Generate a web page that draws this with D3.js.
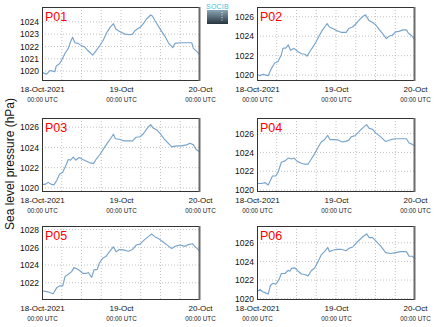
<!DOCTYPE html>
<html><head><meta charset="utf-8">
<script src="https://cdn.jsdelivr.net/npm/d3@7"></script>
<style>html,body{margin:0;padding:0;background:#fff;}svg{display:block;font-family:"Liberation Sans",Arial,Helvetica,sans-serif;}</style>
</head><body><svg id="c" width="435" height="327"></svg>
<script>
// hours since 18-Oct-2021 00:00 UTC, value hPa
const stations = ["P01","P02","P03","P04","P05","P06"];
const xTickLabels = ["18-Oct-2021","19-Oct","20-Oct"];
const xTickSub = "00:00 UTC";
const yLabel = "Sea level pressure (hPa)";
const yDomains = [[1019.2,1025.2],[1019.4,1027.0],[1019.6,1026.9],[1019.8,1027.65],[1020.05,1028.4],[1019.86,1027.8]];
const yTicks = [[1020,1021,1022,1023,1024],[1020,1022,1024,1026],[1020,1022,1024,1026],[1020,1022,1024,1026],[1022,1024,1026,1028],[1020,1022,1024,1026]];
const p01 = [[0,1019.9],[1.4,1019.75],[2.4,1020.05],[3.3,1020.0],[3.9,1019.95],[4.3,1020.4],[5.3,1020.6],[6,1020.9],[7,1021.45],[8,1021.85],[8.7,1022.4],[9.3,1022.75],[10,1022.3],[11,1022.25],[12,1022.05],[13,1021.95],[14,1021.65],[15.4,1021.3],[16.4,1021.65],[17.4,1022.0],[18.6,1022.5],[19.6,1023.1],[20.7,1023.55],[21.7,1023.85],[22.5,1023.4],[23.7,1023.2],[25.2,1023.0],[26.7,1022.95],[27.5,1023.0],[28.3,1023.3],[29.8,1023.55],[30.8,1023.85],[31.8,1024.25],[33,1024.55],[33.6,1024.45],[34.3,1024.1],[35.8,1023.45],[37.4,1022.8],[38.4,1022.3],[39.7,1021.9],[40.4,1022.25],[41.9,1022.3],[43.4,1022.3],[45.5,1022.3],[46,1021.85],[47,1021.6],[48,1021.3]];
const p02 = [[0,1020.1],[0.9,1019.95],[1.9,1020.1],[2.7,1020.0],[3.4,1019.95],[4.4,1020.7],[5.4,1021.25],[6.4,1021.4],[7.4,1022.1],[7.9,1022.75],[8.8,1022.8],[9.5,1023.1],[10.2,1022.55],[11.2,1022.75],[12.5,1022.4],[13.5,1022.2],[14.5,1022.15],[15.2,1021.95],[16,1022.4],[17,1022.9],[18,1023.45],[19,1024.1],[19.8,1024.6],[20.8,1025.05],[21.3,1025.3],[22,1024.95],[23,1024.8],[24,1024.6],[25.5,1024.4],[27.1,1024.4],[27.9,1024.8],[29,1024.95],[30,1025.25],[31,1025.65],[32.2,1026.05],[33,1026.2],[33.9,1025.65],[35.1,1025.4],[36.1,1025.15],[37.1,1024.7],[38.1,1024.3],[39.3,1023.75],[40.1,1024.0],[41.1,1024.1],[42.1,1024.45],[43.1,1024.5],[44.3,1024.65],[45.4,1024.65],[46,1024.3],[47,1024.05],[48,1023.6]];
const p03 = [[0,1020.35],[0.9,1020.35],[1.9,1020.55],[2.9,1020.35],[3.6,1020.3],[4.5,1020.75],[5.3,1021.35],[6.3,1021.55],[7,1022.05],[8,1022.8],[8.7,1022.75],[9.5,1023.05],[10.3,1022.75],[11.3,1023.0],[12.4,1022.8],[13.4,1022.65],[14.4,1022.5],[15.6,1022.4],[16.6,1022.9],[17.6,1023.3],[18.8,1023.9],[19.8,1024.4],[20.9,1024.9],[21.7,1025.3],[22.3,1024.85],[23.5,1024.8],[24.7,1024.65],[26.2,1024.65],[27.5,1024.65],[28.6,1025.0],[29.8,1025.05],[30.8,1025.35],[32,1025.9],[33,1026.25],[33.8,1025.9],[34.8,1025.75],[35.8,1025.4],[37.1,1024.85],[38.4,1024.4],[39.4,1024.05],[40.9,1024.15],[42.4,1024.15],[43.9,1024.25],[45,1024.4],[46,1024.25],[46.8,1023.8],[48,1023.55]];
const p04 = [[0,1020.7],[1.4,1020.7],[2.4,1020.8],[3.4,1020.55],[4.1,1021.05],[4.7,1021.5],[5.7,1021.5],[6.4,1021.9],[7.4,1022.95],[8.5,1023.1],[9.5,1023.4],[10.5,1023.3],[11.3,1023.4],[12.2,1023.05],[13.5,1022.85],[14.5,1022.75],[15.5,1022.75],[16.5,1023.3],[17.5,1023.85],[18.5,1024.5],[19.5,1025.1],[20.5,1025.35],[21.5,1025.8],[22.2,1025.35],[23.5,1025.35],[24.8,1025.3],[25.9,1025.1],[27.1,1025.2],[27.9,1025.3],[28.6,1025.65],[29.9,1025.8],[31.1,1026.25],[32.3,1026.65],[33.3,1026.95],[34.1,1026.55],[35.1,1026.45],[36.1,1026.05],[37.6,1025.65],[39.1,1025.15],[40.6,1025.35],[42.1,1025.45],[43.7,1025.45],[45.4,1025.45],[46.2,1025.0],[47.2,1024.85],[48,1024.65]];
const p05 = [[0,1021.1],[1.4,1021.0],[2.4,1020.9],[3.4,1020.75],[4.5,1021.45],[5.5,1021.65],[6.3,1021.65],[7,1022.7],[8,1022.95],[9,1023.25],[9.7,1023.7],[10.7,1023.55],[11.5,1023.35],[12.4,1023.05],[13.4,1023.05],[14.1,1023.15],[14.6,1022.85],[15.1,1022.6],[15.8,1023.45],[16.8,1023.5],[17.4,1024.2],[18.4,1024.75],[19.4,1024.95],[20.5,1025.5],[21.7,1026.05],[22.5,1025.5],[23.5,1025.75],[24.7,1025.7],[26.2,1025.55],[27.5,1025.75],[28.6,1026.25],[29.8,1026.35],[31,1026.8],[32.3,1027.2],[33.3,1027.5],[34.3,1027.2],[35.3,1027.0],[36.4,1026.7],[37.7,1026.35],[39.4,1025.85],[40.4,1026.1],[41.9,1026.25],[43.4,1026.1],[44.4,1026.3],[45.7,1026.4],[46.5,1026.05],[47.2,1025.85],[48,1025.5]];
const p06 = [[0,1020.75],[0.9,1021.0],[1.7,1020.75],[2.4,1020.65],[3.4,1020.5],[4.1,1021.45],[4.9,1021.65],[5.7,1021.55],[6.7,1022.05],[7.4,1022.7],[8.5,1022.7],[9.5,1023.05],[10,1022.95],[10.5,1023.25],[11.5,1023.3],[12.5,1022.95],[13.5,1022.65],[14.5,1022.6],[15.5,1022.45],[16.5,1023.0],[17.5,1023.3],[18.5,1023.95],[19.5,1024.7],[20.5,1025.05],[21.5,1025.5],[22,1025.05],[23,1025.2],[24.2,1025.3],[25.5,1025.3],[27.1,1025.15],[27.9,1025.4],[29.1,1025.55],[30.1,1025.95],[31.1,1026.3],[32.3,1026.7],[33.3,1026.95],[34.1,1026.55],[35.1,1026.55],[36.1,1026.2],[37.6,1025.65],[39.1,1024.95],[40.6,1024.85],[42.1,1024.95],[43.7,1025.05],[45.4,1025.05],[46.2,1024.55],[47.2,1024.55],[48,1024.3]];
const series = [p01,p02,p03,p04,p05,p06];

const svg = d3.select("#c");
const colX = [42, 257], rowY = [7, 118, 226];
const pw = 158, ph = 74;
const t0 = new Date(Date.UTC(2021,9,18));
const hour = h => new Date(t0.getTime() + h*3600e3);

series.forEach((data, i) => {
  const gx = colX[i % 2], gy = rowY[Math.floor(i / 2)];
  const g = svg.append("g").attr("transform", `translate(${gx},${gy})`);
  const x = d3.scaleUtc().domain([hour(0), hour(48)]).range([0, pw]);
  const y = d3.scaleLinear().domain(yDomains[i]).range([ph, 0]);
  g.append("rect").attr("width", pw).attr("height", ph).attr("fill", "#fff");
  // grid
  const gridX = d3.range(6, 48, 6).map(hour);
  g.selectAll(".gx").data(gridX).join("line")
    .attr("x1", d => x(d)).attr("x2", d => x(d)).attr("y1", 0).attr("y2", ph)
    .attr("stroke", "#b4b4b4").attr("stroke-width", 0.8).attr("stroke-dasharray", "1,2");
  g.selectAll(".gy").data(yTicks[i]).join("line")
    .attr("x1", 0).attr("x2", pw).attr("y1", d => y(d)).attr("y2", d => y(d))
    .attr("stroke", "#b4b4b4").attr("stroke-width", 0.8).attr("stroke-dasharray", "1,2");
  // line
  const line = d3.line().x(d => x(hour(d[0]))).y(d => y(d[1])).curve(d3.curveLinear);
  g.append("path").datum(data).attr("d", line).attr("fill", "none")
    .attr("stroke", "#78a4cc").attr("stroke-width", 1.15).attr("stroke-linejoin", "round");
  // frame
  g.append("rect").attr("x", 0.5).attr("y", 0.5).attr("width", pw - 1).attr("height", ph - 1)
    .attr("fill", "none").attr("stroke", "#333").attr("stroke-width", 1);
  g.append("line").attr("x1", pw - 0.5).attr("x2", pw - 0.5).attr("y1", 0).attr("y2", ph)
    .attr("stroke", "#6a6a6a").attr("stroke-width", 2);
  // y axis
  const ya = d3.axisLeft(y).tickValues(yTicks[i]).tickSize(0).tickPadding(3).tickFormat(d3.format("d"));
  const yg = g.append("g").call(ya);
  yg.select(".domain").remove();
  yg.selectAll("text").attr("font-size", "8.5px").attr("fill", "#111").attr("font-family", null);
  // x axis labels
  const xa = d3.axisBottom(x).tickValues([hour(0), hour(24), hour(48)]).tickSize(0).tickPadding(5)
    .tickFormat((d, k) => xTickLabels[k]);
  const xg = g.append("g").attr("transform", `translate(0,${ph})`).call(xa);
  xg.select(".domain").remove();
  xg.selectAll("text").attr("font-size", "8px").attr("fill", "#111").attr("font-family", null);
  xg.selectAll(".tick").append("text").attr("y", 20.5).attr("text-anchor", "middle")
    .attr("font-size", "6.3px").attr("fill", "#222").text(xTickSub);
  // station label
  g.append("text").attr("x", 3).attr("y", 13.5).attr("fill", "#ff0000")
    .attr("font-size", "12.5px").text(stations[i]);
});

// y label
svg.append("text").attr("transform", "translate(14,164) rotate(-90)").attr("text-anchor", "middle")
  .attr("font-size", "12px").attr("fill", "#111").text(yLabel);

// logo
const defs = svg.append("defs");
const lg = defs.append("linearGradient").attr("id", "lg").attr("x1", 0).attr("x2", 0).attr("y1", 0).attr("y2", 1);
lg.append("stop").attr("offset", 0).attr("stop-color", "#8aa6b6");
lg.append("stop").attr("offset", 1).attr("stop-color", "#26343f");
svg.append("rect").attr("x", 207).attr("y", 10).attr("width", 21).attr("height", 14).attr("fill", "url(#lg)");
svg.append("line").attr("x1", 222).attr("x2", 222).attr("y1", 12).attr("y2", 22)
  .attr("stroke", "#fff").attr("stroke-width", 0.8).attr("stroke-dasharray", "1,1.5");
svg.append("text").attr("x", 217.5).attr("y", 8.5).attr("text-anchor", "middle").attr("font-size", "7px")
  .attr("fill", "#3cc4d8").attr("letter-spacing", "0.2px").text("SOCIB");
</script></body></html>
